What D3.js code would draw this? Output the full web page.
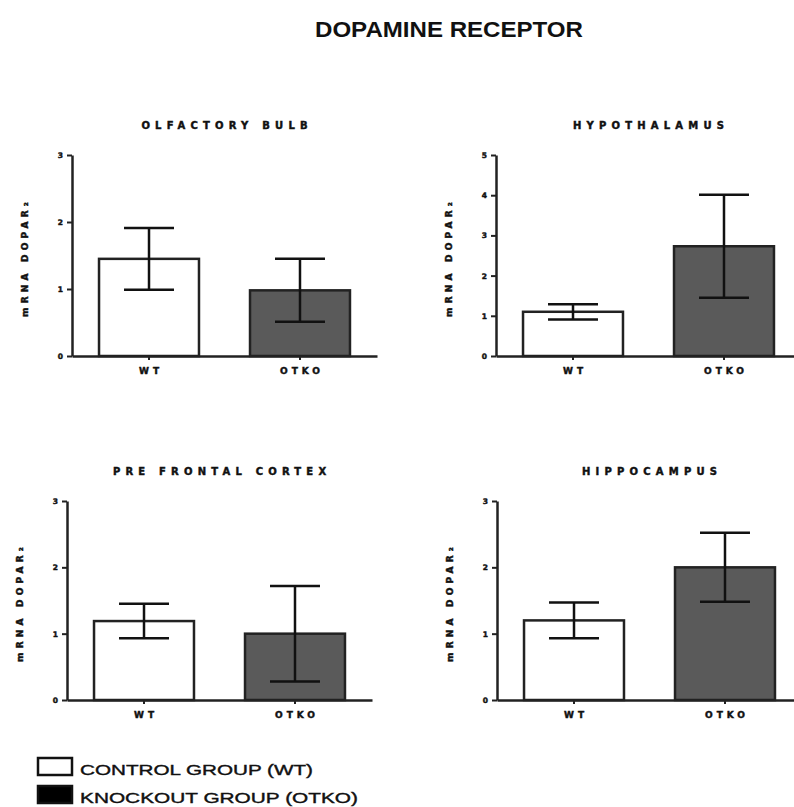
<!DOCTYPE html>
<html>
<head>
<meta charset="utf-8">
<script src="https://cdn.jsdelivr.net/npm/d3@7/dist/d3.min.js"></script>
<style>
  body { margin: 0; background: #fff; }
  svg { display: block; }
</style>
</head>
<body>
<svg id="chart" width="794" height="807"></svg>
<script>
// Brain regions, one panel each
const regions = ["OLFACTORY BULB", "HYPOTHALAMUS", "PRE FRONTAL CORTEX", "HIPPOCAMPUS"];
const groups = ["WT", "OTKO"];

// Mean relative mRNA expression and error (± SEM) per region
const wtMean   = [1.45, 1.10, 1.19, 1.20];
const wtErr    = [0.46, 0.19, 0.26, 0.27];
const otkoMean = [0.98, 2.73, 1.00, 2.00];
const otkoErr  = [0.47, 1.28, 0.72, 0.52];

// Y-axis upper limit per region
const yMax = [3, 5, 3, 3];

const legendLabels = ["CONTROL GROUP (WT)", "KNOCKOUT GROUP (OTKO)"];
const yLabel = "mRNA DOPAR\u2082";
const mainTitle = "DOPAMINE RECEPTOR";

// Panel frames: y-axis x position and plot top/bottom
const frames = [
  { x: 72,  top: 155, bottom: 356 },
  { x: 496, top: 155, bottom: 356 },
  { x: 67,  top: 501, bottom: 700 },
  { x: 497, top: 501, bottom: 700 }
];
const plotWidth = 305;
const ink = "#222";
const smallFont = "'DejaVu Sans', sans-serif";

// Heavy small lettering used for panel titles, ticks and axis labels
function heavy(sel, size, spacing) {
  return sel
    .attr("font-family", smallFont)
    .attr("font-weight", "bold")
    .attr("font-size", size)
    .attr("letter-spacing", spacing + "px")
    .attr("fill", "#111")
    .attr("stroke", "#111")
    .attr("stroke-width", 0.45);
}

const svg = d3.select("#chart");

// Main title
svg.append("text")
  .attr("x", 449).attr("y", 37)
  .attr("text-anchor", "middle")
  .attr("font-family", "'Liberation Sans', Arial, sans-serif")
  .attr("font-weight", "bold")
  .attr("font-size", 22)
  .attr("textLength", 268)
  .attr("lengthAdjust", "spacingAndGlyphs")
  .attr("fill", "#111")
  .text(mainTitle);

regions.forEach((region, i) => {
  const f = frames[i];
  const g = svg.append("g").attr("transform", `translate(${f.x},0)`);

  const x = d3.scaleBand()
    .domain(groups)
    .range([0, plotWidth])
    .paddingInner(0.338)
    .paddingOuter(0.179);

  const y = d3.scaleLinear()
    .domain([0, yMax[i]])
    .range([f.bottom, f.top]);

  const rows = [
    { group: "WT",   mean: wtMean[i],   err: wtErr[i],   fill: "#fff" },
    { group: "OTKO", mean: otkoMean[i], err: otkoErr[i], fill: "#5a5a5a" }
  ];

  // Bars
  g.selectAll("rect.bar").data(rows).join("rect")
    .attr("class", "bar")
    .attr("x", d => x(d.group))
    .attr("y", d => y(d.mean))
    .attr("width", x.bandwidth())
    .attr("height", d => y(0) - y(d.mean))
    .attr("fill", d => d.fill)
    .attr("stroke", ink)
    .attr("stroke-width", 2.5);

  // Error bars
  const cap = x.bandwidth() / 2;
  const eb = g.selectAll("g.err").data(rows).join("g").attr("class", "err")
    .attr("stroke", "#111").attr("stroke-width", 2.5);
  eb.append("line")
    .attr("x1", d => x(d.group) + x.bandwidth() / 2)
    .attr("x2", d => x(d.group) + x.bandwidth() / 2)
    .attr("y1", d => y(d.mean - d.err))
    .attr("y2", d => y(d.mean + d.err));
  [-1, 1].forEach(s => {
    eb.append("line")
      .attr("x1", d => x(d.group) + x.bandwidth() / 2 - cap / 2)
      .attr("x2", d => x(d.group) + x.bandwidth() / 2 + cap / 2)
      .attr("y1", d => y(d.mean + s * d.err))
      .attr("y2", d => y(d.mean + s * d.err));
  });

  // Y axis
  const yAxis = g.append("g")
    .call(d3.axisLeft(y).ticks(yMax[i]).tickFormat(d3.format("d"))
      .tickSize(5).tickSizeOuter(0).tickPadding(4));
  yAxis.select(".domain").attr("stroke", ink).attr("stroke-width", 2.5);
  yAxis.selectAll(".tick line").attr("stroke", ink).attr("stroke-width", 2);
  heavy(yAxis.selectAll(".tick text"), 7.5, 0);

  // X axis
  const xAxis = g.append("g")
    .attr("transform", `translate(0,${f.bottom})`)
    .call(d3.axisBottom(x).tickSize(4).tickSizeOuter(0).tickPadding(8));
  xAxis.select(".domain").attr("stroke", ink).attr("stroke-width", 2.5);
  xAxis.selectAll(".tick line").attr("stroke", ink).attr("stroke-width", 2);
  heavy(xAxis.selectAll(".tick text"), 9, 4).attr("dx", "2px");

  // Panel title
  heavy(g.append("text"), 10, 5.2)
    .attr("x", plotWidth / 2 + 2.6)
    .attr("y", f.top - 26)
    .attr("text-anchor", "middle")
    .text(region);

  // Y axis label
  heavy(g.append("text"), 9, 4.2)
    .attr("transform", `translate(-44,${(f.top + f.bottom) / 2 + 2}) rotate(-90)`)
    .attr("text-anchor", "middle")
    .text(yLabel);
});

// Legend
const legend = svg.append("g");
const legendFill = ["#fff", "#000"];
const legendWidths = [233, 278];
const legendTops = [758, 786];
legendLabels.forEach((label, k) => {
  const top = legendTops[k];
  legend.append("rect")
    .attr("x", 38).attr("y", top)
    .attr("width", 34).attr("height", 17)
    .attr("fill", legendFill[k])
    .attr("stroke", "#111").attr("stroke-width", 2.5);
  legend.append("text")
    .attr("x", 80).attr("y", top + 17)
    .attr("font-family", "'Liberation Sans', Arial, sans-serif")
    .attr("font-size", 15.5)
    .attr("textLength", legendWidths[k])
    .attr("lengthAdjust", "spacingAndGlyphs")
    .attr("fill", "#111")
    .attr("stroke", "#111")
    .attr("stroke-width", 0.4)
    .text(label);
});
</script>
</body>
</html>
